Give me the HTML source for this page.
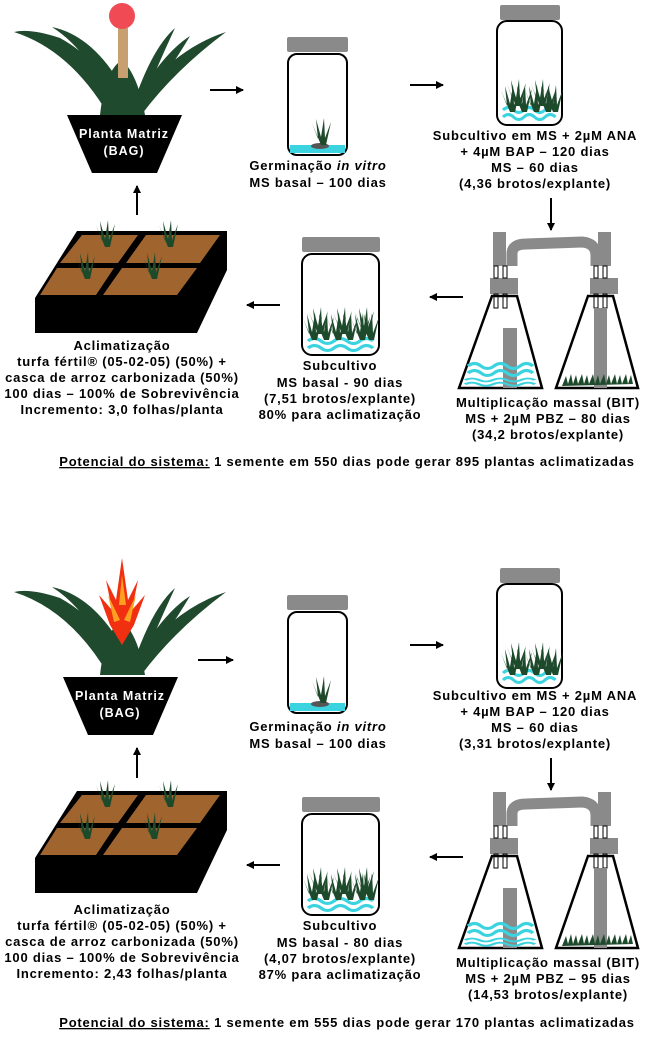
<!DOCTYPE html>
<html><head><meta charset="utf-8"><style>
body{margin:0;background:#fff}
svg{display:block}
text{font-family:"Liberation Sans",Arial,sans-serif;font-weight:bold;font-size:13px;letter-spacing:0.8px;fill:#000;text-anchor:middle}
</style></head><body>
<svg width="661" height="1037" viewBox="0 0 661 1037" xmlns="http://www.w3.org/2000/svg">
<defs>
<marker id="ah" markerWidth="8" markerHeight="8" refX="7" refY="4" orient="auto" markerUnits="userSpaceOnUse"><path d="M0,0 L8,4 L0,8 Z" fill="#000"/></marker>
<g id="sprout">
<path d="M0,0 L-9,-22 L-3,-6 L-5,-26 L0,-8 L3,-27 L4,-7 L10,-23 L5,0 Z" fill="#1e4a2c"/>
</g>
<g id="waves" fill="none" stroke="#3cd3e0" stroke-width="3">
<path d="M0,0 q5,-5 10,0 t10,0 t10,0 t10,0 t10,0"/>
<path d="M0,7 q5,-5 10,0 t10,0 t10,0 t10,0 t10,0"/>
</g>
<g id="plant" fill="#1f4a2d">
<path d="M108,114 Q70,50 14,32 Q30,28 60,38 Q100,60 122,105 Z"/>
<path d="M110,112 Q95,55 52,27 Q90,35 118,80 L124,108 Z"/>
<path d="M112,112 Q100,70 80,40 Q105,55 126,100 Z"/>
<path d="M130,114 Q150,50 175,28 Q160,60 140,108 Z"/>
<path d="M128,114 Q160,55 190,36 Q170,70 138,112 Z"/>
<path d="M125,114 Q170,50 226,32 Q175,70 142,114 Z"/>
<path d="M100,115 Q105,70 122,60 Q138,75 145,115 Z"/>
</g>
<g id="pot">
<path d="M67,115 L182,115 L157,173 L92,173 Z" fill="#000"/>
<text x="124" y="138" style="fill:#fff;font-size:12.5px;letter-spacing:1px">Planta Matriz</text>
<text x="124" y="155" style="fill:#fff;font-size:12.5px;letter-spacing:1px">(BAG)</text>
</g>
<g id="jar1">
<rect x="287" y="37" width="61" height="15" rx="2" fill="#8a8a8a"/>
<rect x="288" y="54" width="59" height="101" rx="9" fill="#fff" stroke="#000" stroke-width="2"/>
<rect x="290" y="145" width="55" height="8" fill="#3cd3e0"/>
<ellipse cx="320" cy="146" rx="9" ry="3" fill="#555"/>
<use href="#sprout" x="321" y="145"/>
</g>
<g id="jar2">
<rect x="500" y="5" width="60" height="15" rx="2" fill="#8a8a8a"/>
<rect x="497" y="21" width="65" height="104" rx="10" fill="#fff" stroke="#000" stroke-width="2"/>
<use href="#waves" transform="translate(503,110) scale(1.05,1)"/>
<use href="#sprout" x="510" y="112"/><use href="#sprout" x="522" y="112"/><use href="#sprout" x="534" y="112"/><use href="#sprout" x="546" y="112"/><use href="#sprout" x="553" y="112"/>
<use href="#sprout" x="516" y="106"/><use href="#sprout" x="540" y="106"/>
</g>
<g id="bit">
<rect x="493" y="232" width="13" height="34" fill="#8a8a8a"/>
<rect x="598" y="232" width="13" height="34" fill="#8a8a8a"/>
<path d="M512,266 V254 Q512,244 526,244 L582,242 Q596,243 596,256 V266" fill="none" stroke="#8a8a8a" stroke-width="11"/>
<rect x="490" y="278" width="28" height="16" fill="#8a8a8a"/>
<rect x="590" y="278" width="28" height="16" fill="#8a8a8a"/>
<g stroke="#000" stroke-width="1" fill="#fff"><rect x="494" y="266" width="4" height="12"/><rect x="503" y="266" width="4" height="12"/><rect x="594" y="266" width="4" height="12"/><rect x="603" y="266" width="4" height="12"/>
<rect x="494" y="294" width="4" height="14"/><rect x="503" y="294" width="4" height="14"/><rect x="594" y="294" width="4" height="14"/><rect x="603" y="294" width="4" height="14"/></g>
<path d="M492,296 L517,296 L542,388 L459,388 Z" fill="none" stroke="#000" stroke-width="2.5"/>
<path d="M588,296 L613,296 L638,388 L556,388 Z" fill="none" stroke="#000" stroke-width="2.5"/>
<rect x="503" y="328" width="14" height="60" fill="#8a8a8a"/>
<rect x="594" y="308" width="13" height="80" fill="#8a8a8a"/>
<use href="#waves" transform="translate(468,366) scale(1.3,1)"/>
<use href="#waves" transform="translate(465,380) scale(1.4,0.6)"/>
<g fill="#1e4a2c"><path d="M562,386 l4,-10 2,8 3,-10 2,10 3,-9 2,9 4,-10 2,10 3,-9 2,9 4,-10 2,10 3,-9 2,9 4,-10 2,10 3,-9 2,9 4,-10 2,10 3,-9 2,9 4,-10 2,10 3,-9 2,9 Z"/></g>
</g>
<g id="jar3">
<rect x="302" y="237" width="78" height="15" rx="2" fill="#8a8a8a"/>
<rect x="302" y="254" width="77" height="101" rx="10" fill="#fff" stroke="#000" stroke-width="2"/>
<use href="#waves" transform="translate(308,341) scale(1.3,1)"/>
<use href="#sprout" x="312" y="340"/><use href="#sprout" x="324" y="340"/><use href="#sprout" x="336" y="340"/><use href="#sprout" x="348" y="340"/><use href="#sprout" x="360" y="340"/><use href="#sprout" x="369" y="340"/>
<use href="#sprout" x="318" y="334"/><use href="#sprout" x="342" y="334"/><use href="#sprout" x="364" y="334"/>
</g>
<g id="tray">
<path d="M77,231 L227,231 L227,270 L197,333 L35,333 L35,298 Z" fill="#000"/>
<path d="M82,235 L138,235 L118,263 L60,263 Z" fill="#a0642f"/>
<path d="M146,235 L220,235 L200,263 L126,263 Z" fill="#a0642f"/>
<path d="M57,268 L114,268 L96,295 L40,295 Z" fill="#a0642f"/>
<path d="M122,268 L197,268 L177,295 L103,295 Z" fill="#a0642f"/>
<use href="#sprout" x="105" y="247"/><use href="#sprout" x="168" y="247"/><use href="#sprout" x="85" y="279"/><use href="#sprout" x="152" y="279"/>
</g>
</defs>

<!-- TOP PANEL -->
<use href="#plant"/>
<rect x="118" y="28" width="10" height="50" fill="#c8a070"/>
<circle cx="122" cy="16" r="13" fill="#f04a55"/>
<use href="#pot"/>
<line x1="210" y1="90" x2="243" y2="90" stroke="#000" stroke-width="2" marker-end="url(#ah)"/>
<use href="#jar1"/>
<text x="318" y="170">Germinação <tspan font-style="italic">in vitro</tspan></text>
<text x="318" y="187">MS basal – 100 dias</text>
<line x1="410" y1="85" x2="443" y2="85" stroke="#000" stroke-width="2" marker-end="url(#ah)"/>
<use href="#jar2"/>
<text x="535" y="140">Subcultivo em MS + 2µM ANA</text>
<text x="535" y="156">+ 4µM BAP – 120 dias</text>
<text x="535" y="172">MS – 60 dias</text>
<text x="535" y="188">(4,36 brotos/explante)</text>
<line x1="551" y1="198" x2="551" y2="230" stroke="#000" stroke-width="2" marker-end="url(#ah)"/>
<use href="#bit"/>
<text x="548" y="407">Multiplicação massal (BIT)</text>
<text x="548" y="423">MS + 2µM  PBZ – 80 dias</text>
<text x="548" y="439">(34,2 brotos/explante)</text>
<line x1="463" y1="297" x2="430" y2="297" stroke="#000" stroke-width="2" marker-end="url(#ah)"/>
<use href="#jar3"/>
<text x="340" y="370">Subcultivo</text>
<text x="340" y="387">MS basal - 90 dias</text>
<text x="340" y="403">(7,51 brotos/explante)</text>
<text x="340" y="419">80% para aclimatização</text>
<line x1="280" y1="305" x2="247" y2="305" stroke="#000" stroke-width="2" marker-end="url(#ah)"/>
<use href="#tray"/>
<text x="122" y="350">Aclimatização</text>
<text x="122" y="366">turfa fértil® (05-02-05) (50%) +</text>
<text x="122" y="382">casca de arroz carbonizada (50%)</text>
<text x="122" y="398">100 dias – 100% de Sobrevivência</text>
<text x="122" y="414">Incremento: 3,0 folhas/planta</text>
<line x1="137" y1="215" x2="137" y2="186" stroke="#000" stroke-width="2" marker-end="url(#ah)"/>
<text x="347" y="466"><tspan text-decoration="underline">Potencial do sistema:</tspan> 1 semente em 550 dias pode gerar 895 plantas aclimatizadas</text>

<!-- BOTTOM PANEL -->
<g transform="translate(0,560)">
<use href="#plant"/>
<path d="M122,-2 L128,40 L138,20 L132,50 L145,35 L134,65 L122,85 L110,65 L99,35 L112,50 L106,20 L116,40 Z" fill="#f03010"/>
<path d="M122,15 L126,45 L119,45 Z M108,35 L120,60 L114,62 Z M136,35 L124,60 L130,62 Z" fill="#ffa020"/>
<use href="#pot" transform="translate(-4,2)"/>
<line x1="198" y1="100" x2="233" y2="100" stroke="#000" stroke-width="2" marker-end="url(#ah)"/>
<use href="#jar1" transform="translate(0,-2)"/>
<text x="318" y="171">Germinação <tspan font-style="italic">in vitro</tspan></text>
<text x="318" y="188">MS basal – 100 dias</text>
<line x1="410" y1="85" x2="443" y2="85" stroke="#000" stroke-width="2" marker-end="url(#ah)"/>
<use href="#jar2" transform="translate(0,3)"/>
<text x="535" y="140">Subcultivo em MS + 2µM ANA</text>
<text x="535" y="156">+ 4µM BAP – 120 dias</text>
<text x="535" y="172">MS – 60 dias</text>
<text x="535" y="188">(3,31 brotos/explante)</text>
<line x1="551" y1="198" x2="551" y2="230" stroke="#000" stroke-width="2" marker-end="url(#ah)"/>
<use href="#bit"/>
<text x="548" y="407">Multiplicação massal (BIT)</text>
<text x="548" y="423">MS + 2µM  PBZ – 95 dias</text>
<text x="548" y="439">(14,53 brotos/explante)</text>
<line x1="463" y1="297" x2="430" y2="297" stroke="#000" stroke-width="2" marker-end="url(#ah)"/>
<use href="#jar3"/>
<text x="340" y="370">Subcultivo</text>
<text x="340" y="387">MS basal - 80 dias</text>
<text x="340" y="403">(4,07 brotos/explante)</text>
<text x="340" y="419">87% para aclimatização</text>
<line x1="280" y1="305" x2="247" y2="305" stroke="#000" stroke-width="2" marker-end="url(#ah)"/>
<use href="#tray"/>
<text x="122" y="354">Aclimatização</text>
<text x="122" y="370">turfa fértil® (05-02-05) (50%) +</text>
<text x="122" y="386">casca de arroz carbonizada (50%)</text>
<text x="122" y="402">100 dias – 100% de Sobrevivência</text>
<text x="122" y="418">Incremento: 2,43 folhas/planta</text>
<line x1="137" y1="218" x2="137" y2="188" stroke="#000" stroke-width="2" marker-end="url(#ah)"/>
<text x="347" y="467"><tspan text-decoration="underline">Potencial do sistema:</tspan> 1 semente em 555 dias pode gerar 170 plantas aclimatizadas</text>
</g>
</svg>
</body></html>
